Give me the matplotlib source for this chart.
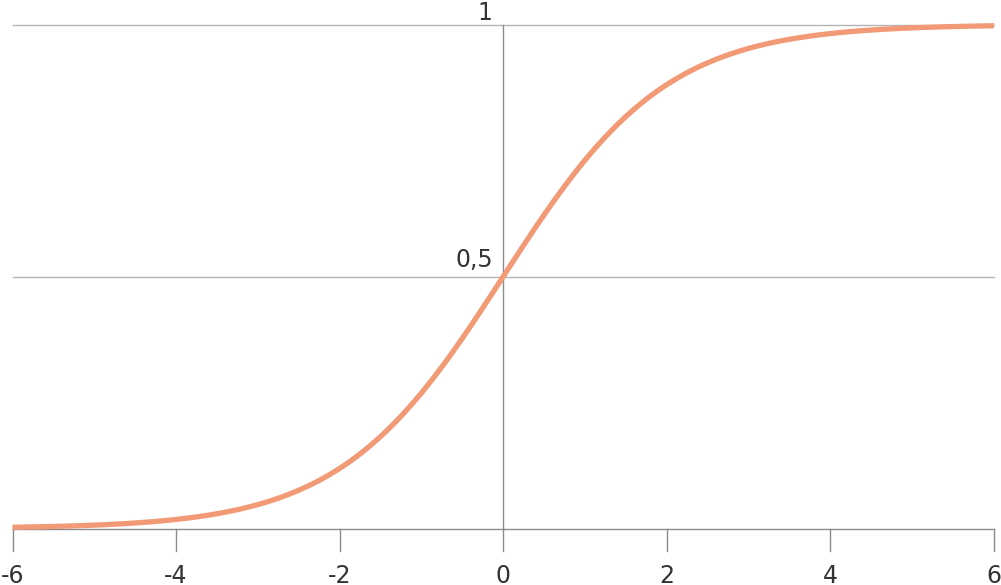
import matplotlib
matplotlib.use("Agg")
import matplotlib.pyplot as plt

x_vals = [-6.0, -5.875, -5.75, -5.625, -5.5, -5.375, -5.25, -5.125, -5.0, -4.875, -4.75, -4.625,
          -4.5, -4.375, -4.25, -4.125, -4.0, -3.875, -3.75, -3.625, -3.5, -3.375, -3.25, -3.125,
          -3.0, -2.875, -2.75, -2.625, -2.5, -2.375, -2.25, -2.125, -2.0, -1.875, -1.75, -1.625,
          -1.5, -1.375, -1.25, -1.125, -1.0, -0.875, -0.75, -0.625, -0.5, -0.375, -0.25, -0.125,
          0.0, 0.125, 0.25, 0.375, 0.5, 0.625, 0.75, 0.875, 1.0, 1.125, 1.25, 1.375,
          1.5, 1.625, 1.75, 1.875, 2.0, 2.125, 2.25, 2.375, 2.5, 2.625, 2.75, 2.875,
          3.0, 3.125, 3.25, 3.375, 3.5, 3.625, 3.75, 3.875, 4.0, 4.125, 4.25, 4.375,
          4.5, 4.625, 4.75, 4.875, 5.0, 5.125, 5.25, 5.375, 5.5, 5.625, 5.75, 5.875, 6.0]
y_vals = [0.0025, 0.0028, 0.0032, 0.0036, 0.0041, 0.0046, 0.0052, 0.0059, 0.0067, 0.0076, 0.0086, 0.0097,
          0.0110, 0.0124, 0.0140, 0.0159, 0.0180, 0.0203, 0.0230, 0.0260, 0.0293, 0.0331, 0.0373, 0.0421,
          0.0474, 0.0534, 0.0601, 0.0676, 0.0759, 0.0851, 0.0953, 0.1067, 0.1192, 0.1329, 0.1480, 0.1645,
          0.1824, 0.2018, 0.2227, 0.2451, 0.2689, 0.2942, 0.3208, 0.3486, 0.3775, 0.4073, 0.4378, 0.4688,
          0.5000, 0.5312, 0.5622, 0.5927, 0.6225, 0.6514, 0.6792, 0.7058, 0.7311, 0.7549, 0.7773, 0.7982,
          0.8176, 0.8355, 0.8520, 0.8671, 0.8808, 0.8933, 0.9047, 0.9149, 0.9241, 0.9324, 0.9399, 0.9466,
          0.9526, 0.9579, 0.9627, 0.9669, 0.9707, 0.9740, 0.9770, 0.9797, 0.9820, 0.9841, 0.9860, 0.9876,
          0.9890, 0.9903, 0.9914, 0.9924, 0.9933, 0.9941, 0.9948, 0.9954, 0.9959, 0.9964, 0.9968, 0.9972, 0.9975]

x_ticks = [-6, -4, -2, 0, 2, 4, 6]
x_tick_labels = ["-6", "-4", "-2", "0", "2", "4", "6"]
y_levels = [0.5, 1.0]
y_level_labels = ["0,5", "1"]

W, H = 1001, 585
fig = plt.figure(figsize=(W / 100, H / 100), dpi=100)
left, right, bottom, top = 12.5, 994.0, 585 - 528.5, 585 - 24.5
ax = fig.add_axes([left / W, bottom / H, (right - left) / W, (top - bottom) / H])
ax.set_xlim(-6, 6)
ax.set_ylim(0, 1)
for s in ax.spines.values():
    s.set_visible(False)
ax.set_xticks([])
ax.set_yticks([])

px_y = 1.0 / (top - bottom)          # data units per pixel (y)
px_x = 12.0 / (right - left)         # data units per pixel (x)

grid_c = "#b4b4b4"
axis_c = "#8c8c8c"
text_c = "#333333"

for yv in y_levels:
    ax.axhline(yv, color=grid_c, lw=1.0, zorder=1, clip_on=False)
ax.axhline(0, color=axis_c, lw=1.0, zorder=1, clip_on=False)
ax.axvline(0, color=axis_c, lw=1.0, ymin=0, ymax=1, zorder=1, clip_on=False)

tick_len = 22 * px_y
for xt, lab in zip(x_ticks, x_tick_labels):
    ax.plot([xt, xt], [0, -tick_len], color=axis_c, lw=1.0, clip_on=False, zorder=1)
    ax.text(xt, -54.5 * px_y, lab, ha="center", va="baseline", fontsize=17, color=text_c,
            family="DejaVu Sans")

label_gap = {0.5: 9.5, 1.0: 5.0}
for yv, lab in zip(y_levels, y_level_labels):
    ax.text(-10.5 * px_x, yv + label_gap[yv] * px_y, lab, ha="right", va="baseline",
            fontsize=17, color=text_c, family="DejaVu Sans")

ax.plot(x_vals, y_vals, color="#f29a76", lw=3.8, solid_capstyle="butt", clip_on=False, zorder=3)

fig.savefig("out.png", dpi=100)
